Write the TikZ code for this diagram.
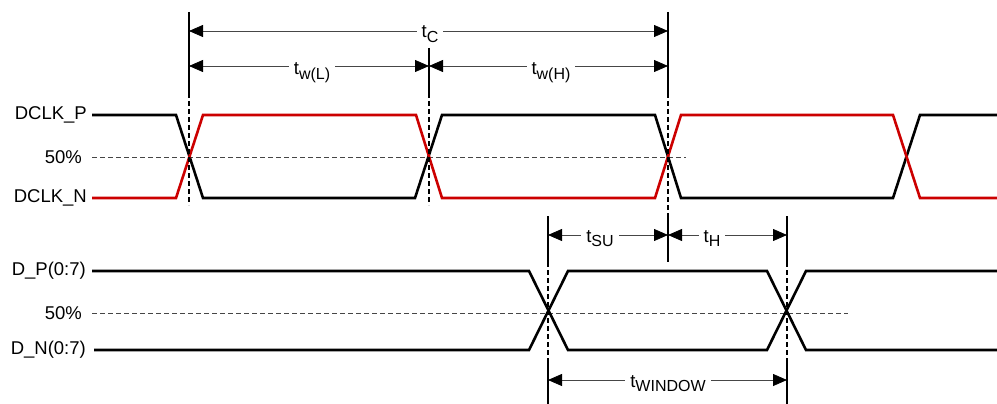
\documentclass[tikz,border=0pt]{standalone}
\usepackage{fontspec}
\setmainfont{Liberation Sans}
\usetikzlibrary{arrows.meta}
\definecolor{sigred}{RGB}{204,0,0}
\definecolor{dimgr}{RGB}{70,70,70}
\newcommand{\tsub}[1]{t\raisebox{-4.5pt}{\fontsize{16}{16}\selectfont #1}}
\begin{document}
\begin{tikzpicture}[x=1pt,y=-1pt,
  blk/.style={line width=2.6pt, black, line join=miter},
  rd/.style={line width=2.6pt, sigred, line join=miter},
  mark50/.style={line width=0.8pt, dimgr, dash pattern=on 5pt off 3pt},
  tick/.style={line width=1.4pt, black},
  dtick/.style={line width=1.2pt, black, dash pattern=on 5pt off 3pt},
  dim/.style={line width=0.8pt, dimgr, {Triangle[length=14pt,width=12pt,black]}-{Triangle[length=14pt,width=12pt,black]}},
  lab/.style={font=\fontsize{18.5}{20}\selectfont, inner sep=0pt},
  dlab/.style={font=\fontsize{18.5}{20}\selectfont, fill=white, inner xsep=5pt, inner ysep=1pt, anchor=base}
]
\useasboundingbox (0,0) rectangle (997,404);

% labels
\node[lab, anchor=east] (lp) at (87,115) {DCLK\_P};
\node[lab, anchor=east] (lm1) at (82,157) {50\%};
\node[lab, anchor=east] (ln) at (87,198) {DCLK\_N};
\node[lab, anchor=east] (dp) at (86,271) {D\_P(0:7)};
\node[lab, anchor=east] (lm2) at (82,313) {50\%};
\node[lab, anchor=east] (dn) at (86,350) {D\_N(0:7)};

% 50% reference lines
\coordinate (m1a) at (92,157); \coordinate (m1b) at (686,157);
\coordinate (m2a) at (92,313); \coordinate (m2b) at (848,313);
\draw[mark50] (m1a) -- (m1b);
\draw[mark50] (m2a) -- (m2b);

% clock signals
\draw[blk] (92,115) -- (176,115) -- (203,198) -- (415,198) -- (442,115) -- (655,115) -- (681,198) -- (893,198) -- (920,115) -- (997,115);
\draw[rd] (92,198) -- (176,198) -- (203,115) -- (416,115) -- (442,198) -- (655,198) -- (681,115) -- (893,115) -- (920,198) -- (997,198);

% data signals
\draw[blk] (92,271) -- (529,271) -- (568,350) -- (767,350) -- (806,271) -- (997,271);
\draw[blk] (94,350) -- (529,350) -- (568,271) -- (767,271) -- (806,350) -- (997,350);

% vertical reference lines
\coordinate (a0) at (189,12);  \coordinate (a1) at (189,93);  \coordinate (a2) at (189,205);
\coordinate (b0) at (429,48);  \coordinate (b1) at (429,93);  \coordinate (b2) at (429,205);
\coordinate (c0) at (668,12);  \coordinate (c1) at (668,93);  \coordinate (c2) at (668,215); \coordinate (c3) at (668,262);
\coordinate (d0) at (548,216); \coordinate (d1) at (548,262); \coordinate (d2) at (548,360); \coordinate (d3) at (548,404);
\coordinate (e0) at (787,216); \coordinate (e1) at (787,262); \coordinate (e2) at (787,360); \coordinate (e3) at (787,404);
\draw[tick] (a0) -- (a1); \draw[dtick] (a1) -- (a2);
\draw[tick] (b0) -- (b1); \draw[dtick] (b1) -- (b2);
\draw[tick] (c0) -- (c1); \draw[dtick] (c1) -- (c2); \draw[tick] (c2) -- (c3);
\draw[tick] (d0) -- (d1); \draw[dtick] (d1) -- (d2); \draw[tick] (d2) -- (d3);
\draw[tick] (e0) -- (e1); \draw[dtick] (e1) -- (e2); \draw[tick] (e2) -- (e3);

% dimension arrows
\coordinate (tc1) at (189,31);  \coordinate (tc2) at (668,31);
\coordinate (tl1) at (189,66);  \coordinate (tl2) at (429,66);
\coordinate (th1) at (429,66);  \coordinate (th2) at (668,66);
\coordinate (su1) at (548,235); \coordinate (su2) at (668,235);
\coordinate (ho1) at (668,235); \coordinate (ho2) at (787,235);
\coordinate (wi1) at (548,380); \coordinate (wi2) at (787,380);
\draw[dim] (tc1) -- (tc2);
\draw[dim] (tl1) -- (tl2);
\draw[dim] (th1) -- (th2);
\draw[dim] (su1) -- (su2);
\draw[dim] (ho1) -- (ho2);
\draw[dim] (wi1) -- (wi2);
\node[dlab] (ltc) at (430,38) {\tsub{C}};
\node[dlab] (ltl) at (312,75) {\tsub{w(L)}};
\node[dlab] (lth) at (551,75) {\tsub{w(H)}};
\node[dlab] (lsu) at (600,242) {\tsub{SU}};
\node[dlab] (lho) at (712,242) {\tsub{H}};
\node[dlab] (lwi) at (668,387) {\tsub{WINDOW}};
\end{tikzpicture}
\end{document}
